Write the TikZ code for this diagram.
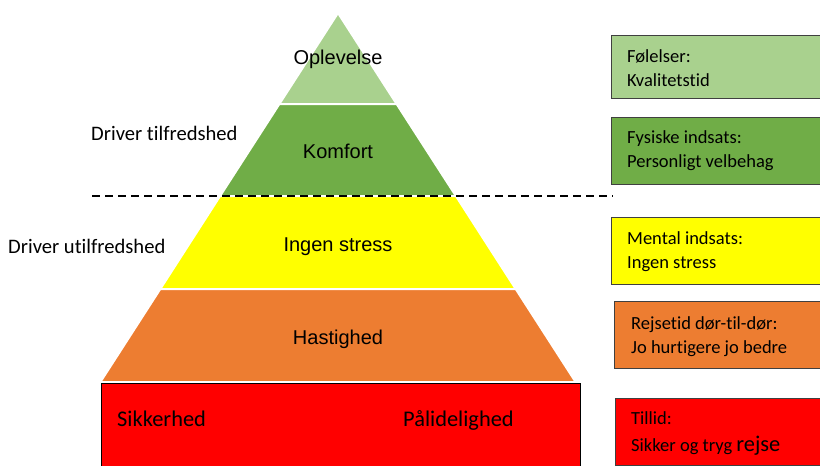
\documentclass[tikz,border=0pt]{standalone}
\usepackage{fontspec}
\setmainfont[Ligatures=NoCommon]{Carlito}
\newfontfamily\arial{Liberation Sans}
\definecolor{oplevgroen}{HTML}{A9D18E}
\definecolor{komfgroen}{HTML}{70AD47}
\definecolor{stressgul}{HTML}{FFFF00}
\definecolor{hastorange}{HTML}{ED7D31}
\definecolor{sikrod}{HTML}{FF0000}
\tikzset{
  lag/.style={draw=white, line width=2pt},
  lagtekst/.style={anchor=base, inner sep=0pt, font=\arial\fontsize{20}{24}\selectfont},
  infoboks/.style={draw=black!75, line width=0.9pt},
  infotekst/.style={anchor=west, align=left, inner sep=0pt, font=\fontsize{18.5}{24}\selectfont},
  driver/.style={anchor=west, inner sep=0pt, font=\fontsize{20.6}{24}\selectfont},
  bundtekst/.style={anchor=base west, inner sep=0pt, font=\fontsize{22.4}{26}\selectfont},
}
\begin{document}
\begin{tikzpicture}[x=1pt,y=-1pt]
	\clip (0,0) rectangle (820,466);
	\fill[white] (0,0) rectangle (820,466);
	% pyramiden
	\filldraw[lag, fill=oplevgroen] (338,13) -- (396.6,104) -- (279.4,104) -- cycle;
	\filldraw[lag, fill=komfgroen] (279.4,104) -- (396.6,104) -- (455.9,196) -- (220.1,196) -- cycle;
	\filldraw[lag, fill=stressgul] (220.1,196) -- (455.9,196) -- (515.7,289) -- (160.3,289) -- cycle;
	\filldraw[lag, fill=hastorange] (160.3,289) -- (515.7,289) -- (575.6,382) -- (100.4,382) -- cycle;
	\filldraw[draw=black, line width=0.8pt, fill=sikrod] (101,383) rectangle (580,472);
	\node[lagtekst] (oplevelse) at (338,64) {Oplevelse};
	\node[lagtekst] (komfort) at (338,158) {Komfort};
	\node[lagtekst] (stress) at (338,251) {Ingen stress};
	\node[lagtekst] (hastighed) at (338,344) {Hastighed};
	\node[bundtekst] (sikkerhed) at (117,426) {Sikkerhed};
	\node[bundtekst] (paalidelighed) at (403,426) {Pålidelighed};
	% skillelinjen
	\coordinate (skel-v) at (92,196);
	\coordinate (skel-h) at (613,196);
	\draw[line width=1.6pt, dash pattern=on 8pt off 5pt] (skel-v) -- (skel-h);
	\node[driver] (tilfreds) at (91,133) {Driver tilfredshed};
	\node[driver] (utilfreds) at (8,246) {Driver utilfredshed};
	% boksene til hoejre
	\filldraw[infoboks, fill=oplevgroen] (611,35) rectangle (830,98);
	\filldraw[infoboks, fill=komfgroen] (611,117) rectangle (830,184);
	\filldraw[infoboks, fill=stressgul] (611,217) rectangle (830,284);
	\filldraw[infoboks, fill=hastorange] (614,301) rectangle (830,368);
	\filldraw[infoboks, fill=sikrod] (615,398) rectangle (830,465);
	\node[infotekst] (foelelser) at (627,68) {Følelser:\\Kvalitetstid};
	\node[infotekst] (fysisk) at (627,151) {Fysiske indsats:\\Personligt velbehag};
	\node[infotekst] (mental) at (627,252) {Mental indsats:\\Ingen stress};
	\node[infotekst] (rejsetid) at (631,337) {Rejsetid dør-til-dør:\\Jo hurtigere jo bedre};
	\node[infotekst] (tillid) at (631,433) {Tillid:\\[3pt]Sikker og tryg {\fontsize{22.4}{26}\selectfont rejse}};
\end{tikzpicture}
\end{document}
